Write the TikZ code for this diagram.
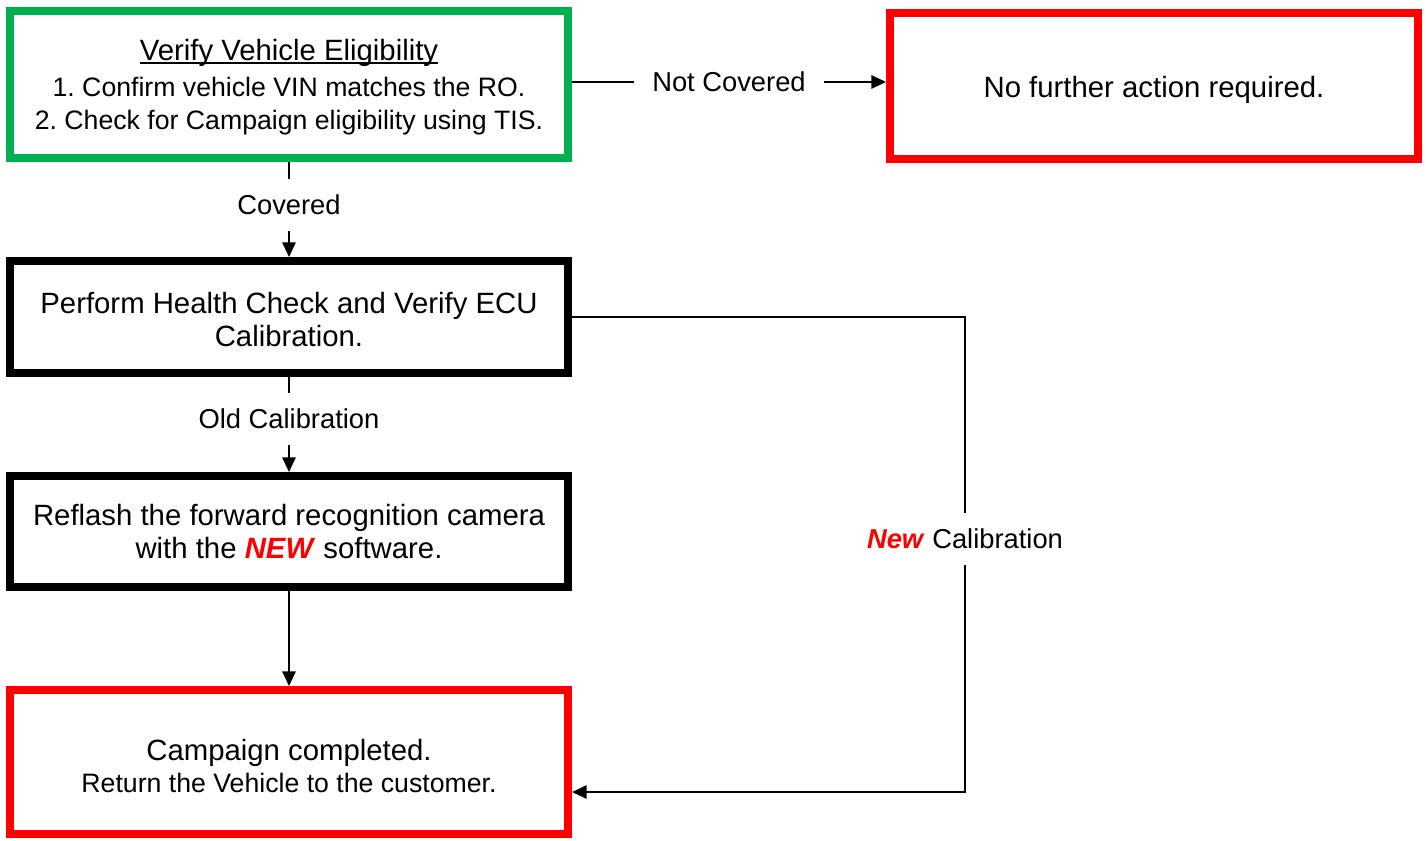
\documentclass[tikz,border=0pt]{standalone}
\usepackage{fontspec}
\setmainfont{Liberation Sans}
\usetikzlibrary{arrows.meta}

\definecolor{okgruen}{HTML}{00B050}
\definecolor{alarmrot}{HTML}{FF0000}

% Unterstreichung dicht an der Grundlinie
\newcommand\unterstr[1]{\setbox0\hbox{#1}\rlap{\rule[-2.6pt]{\wd0}{1.2pt}}\box0}
% unsichtbare Stuetze, schiebt den Text etwas nach unten
\newcommand\stuetze[1]{\rule{0pt}{#1}}

\tikzset{
	kasten/.style={draw, line width=6pt, minimum width=418.5pt, align=center, inner sep=0pt,
		font=\fontsize{22}{24.75}\selectfont},
	linie/.style={line width=1.4pt},
	pfeil/.style={linie, -{Triangle[length=11pt,width=10pt]}},
	marke/.style={fill=white, inner xsep=14pt, inner ysep=12pt, font=\fontsize{20.5}{24}\selectfont},
}

\begin{document}
\frenchspacing
\begin{tikzpicture}[x=0.75pt,y=-0.75pt]
	
	\useasboundingbox (0,0) rectangle (1426,840);
	
	% Berechtigung pruefen
	\node[kasten, draw=okgruen, minimum height=110.25pt, font=\fontsize{20}{24.75}\selectfont]
	(pruefen) at (289,84.5)
	{\fontsize{22}{26}\selectfont\stuetze{20pt}\unterstr{Verify Vehicle Eligibility}\\[2.2pt]
		1. Confirm vehicle VIN matches the RO.\\
		2. Check for Campaign eligibility using TIS.};
	
	% Nicht berechtigt
	\node[kasten, draw=alarmrot, minimum width=396pt, minimum height=109.5pt]
	(ende) at (1154,86) {\stuetze{22pt}No further action required.};
	
	% Health Check
	\node[kasten, minimum height=84pt]
	(health) at (289,317) {\stuetze{19pt}Perform Health Check and Verify ECU\\ Calibration.};
	
	% Neu flashen
	\node[kasten, minimum height=83.25pt]
	(reflash) at (289,531.5)
	{Reflash the forward recognition camera\\
		with the \textcolor{alarmrot}{\textbf{\textit{NEW}}} software.};
	
	% Abschluss
	\node[kasten, draw=alarmrot, minimum height=108pt, font=\fontsize{22}{24}\selectfont]
	(fertig) at (289,762)
	{\stuetze{22pt}Campaign completed.\\ \fontsize{20}{24}\selectfont Return the Vehicle to the customer.};
	
	% Hilfspunkte
	\coordinate (nc) at ([yshift=1.9pt]pruefen.east);
	\coordinate (knick1) at (965,317);
	\coordinate (knick2) at (965,792);
	
	% Verbindungen
	\draw[pfeil] (pruefen) -- node[marke, pos=0.45] {Covered} (health);
	\draw[pfeil] (nc) -- node[marke] {Not Covered} (nc -| ende.west);
	\draw[pfeil] (health) -- node[marke, pos=0.44] {Old Calibration} (reflash);
	\draw[pfeil] (reflash) -- (fertig);
	\draw[pfeil] (health.east) -- (knick1)
	-- node[marke, pos=0.467] {\textcolor{alarmrot}{\textbf{\textit{New}}} Calibration} (knick2)
	-- (fertig.east |- knick2);
	
\end{tikzpicture}
\end{document}
